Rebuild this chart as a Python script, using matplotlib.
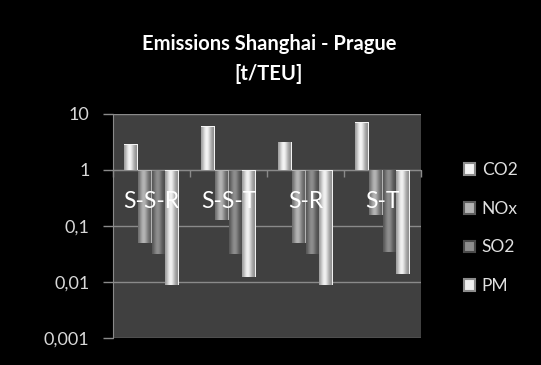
import numpy as np
import matplotlib
matplotlib.use("Agg")
import matplotlib.pyplot as plt
from matplotlib.colors import LinearSegmentedColormap
from matplotlib.patches import Patch

categories = ["S-S-R", "S-S-T", "S-R", "S-T"]
series_names = ["CO2", "NOx", "SO2", "PM"]
co2 = [2.9, 6.1, 3.2, 7.1]
nox = [0.050, 0.128, 0.050, 0.157]
so2 = [0.032, 0.032, 0.032, 0.034]
pm = [0.0089, 0.0124, 0.0089, 0.0139]
y_ticks = [0.001, 0.01, 0.1, 1, 10]
y_tick_labels = ["0,001", "0,01", "0,1", "1", "10"]

series_values = [co2, nox, so2, pm]
# (edge shade, highlight shade) for each series' metallic gradient
series_shades = [("#8c8c8c", "#f4f4f4"),
                 ("#5e5e5e", "#b4b4b4"),
                 ("#4a4a4a", "#8e8e8e"),
                 ("#8c8c8c", "#f0f0f0")]

font = "Lato"

fig = plt.figure(figsize=(5.41, 3.65), dpi=100, facecolor="black")
ax = fig.add_axes([0.2089, 0.074, 0.5693, 0.6137])
ax.set_facecolor("#404040")
ax.set_yscale("log")

n_series = len(series_values)
bar_w = 0.178
x = np.arange(len(categories))

# horizontal brightness profile of a bevelled bar: dim edges, bright left-of-centre
t = np.linspace(0, 1, 64)
profile = np.exp(-((t - 0.38) / 0.32) ** 2)
profile = (profile - profile.min()) / (profile.max() - profile.min())
grad = profile[np.newaxis, :]

for i, (vals, (c0, c1)) in enumerate(zip(series_values, series_shades)):
    offs = (i - (n_series - 1) / 2) * bar_w
    vals = np.asarray(vals)
    bars = ax.bar(x + offs, vals - 1, bottom=1, width=bar_w,
                  color=c1, edgecolor="none", zorder=3)
    cmap = LinearSegmentedColormap.from_list(series_names[i], [c0, c1])
    for b in bars:
        x0, x1 = b.get_x(), b.get_x() + b.get_width()
        y0, y1 = b.get_y(), b.get_y() + b.get_height()
        im = ax.imshow(grad, extent=[x0, x1, min(y0, y1), max(y0, y1)],
                       aspect="auto", cmap=cmap, vmin=0, vmax=1,
                       interpolation="bilinear", zorder=4)
        im.set_clip_path(b)

ax.set_xlim(-0.5, len(categories) - 0.5)
ax.set_ylim(y_ticks[0], y_ticks[-1])

# value axis
ax.yaxis.set_major_locator(matplotlib.ticker.FixedLocator(y_ticks))
ax.yaxis.set_major_formatter(matplotlib.ticker.FixedFormatter(y_tick_labels))
ax.yaxis.set_minor_locator(matplotlib.ticker.NullLocator())
ax.tick_params(axis="y", which="major", direction="out", length=7, width=1,
               color="#8a8a8a", labelcolor="#d8d8d8", labelsize=13, pad=10)
for lab in ax.get_yticklabels():
    lab.set_fontfamily(font)
ax.grid(axis="y", color="#8a8a8a", linewidth=1, zorder=1)
ax.set_axisbelow(True)

# category axis crosses the value axis at 1
ax.spines["bottom"].set_position(("data", 1))
ax.spines["bottom"].set_color("#8a8a8a")
ax.spines["bottom"].set_zorder(2)
ax.spines["left"].set_color("#8a8a8a")
ax.spines["top"].set_visible(False)
ax.spines["right"].set_visible(False)
ax.set_xticks(x)
ax.set_xticklabels(categories)
ax.set_xticks(np.arange(len(categories) + 1) - 0.5, minor=True)
ax.tick_params(axis="x", which="major", length=0, pad=15,
               labelcolor="white", labelsize=16.5)
ax.tick_params(axis="x", which="minor", direction="out", length=5,
               width=1, color="#8a8a8a")
for lab in ax.get_xticklabels():
    lab.set_fontfamily(font)
    lab.set_zorder(6)
ax.xaxis.set_zorder(6)

fig.text(0.497, 0.838, "Emissions Shanghai - Prague\n[t/TEU]", ha="center",
         va="center", color="white", fontsize=14.5, fontweight="bold",
         family=font, linespacing=1.6)

handles = [Patch(facecolor=c1, edgecolor=c0, linewidth=1.5)
           for (c0, c1) in series_shades]
leg = fig.legend(handles, series_names, loc="center left",
                 bbox_to_anchor=(0.828, 0.375), frameon=False,
                 labelcolor="#e0e0e0", prop={"family": font, "size": 12.5},
                 handlelength=0.65, handleheight=0.65, handletextpad=0.4,
                 labelspacing=1.3)

fig.savefig("out.png", dpi=100, facecolor="black")
